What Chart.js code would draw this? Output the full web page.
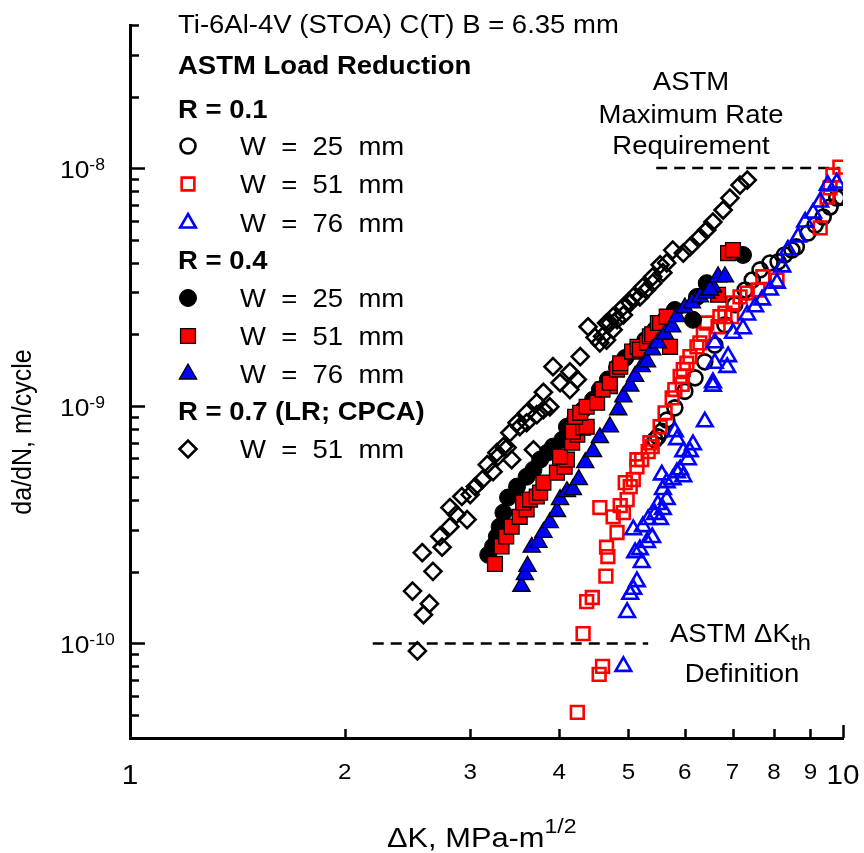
<!DOCTYPE html>
<html>
<head>
<meta charset="utf-8">
<script src="https://cdn.jsdelivr.net/npm/chart.js@4.4.1/dist/chart.umd.min.js"></script>
<style>
html, body { margin: 0; padding: 0; background: #fff; }
</style>
</head>
<body>
<canvas id="fcgChart" width="864" height="853"></canvas>
<script>
// ------ data (dK in MPa-m^1/2, da/dN in m/cycle) ------//

// R = 0.1, W = 25 mm
var dkR01W25 = [5.45, 5.50, 5.57, 5.66, 5.81, 6.00, 6.20, 6.40, 6.61, 6.83, 7.05, 7.29, 7.46, 7.65, 7.90, 8.11, 8.28, 8.48, 8.60, 8.93, 9.14, 9.38, 9.59, 9.80, 9.96]
var daR01W25 = [7.2e-10, 7.4e-10, 7.8e-10, 8.7e-10, 9.8e-10, 1.15e-9, 1.31e-9, 1.53e-9, 1.80e-9, 2.19e-9, 2.66e-9, 3.07e-9, 3.38e-9, 3.73e-9, 3.99e-9, 4.03e-9, 4.31e-9, 4.52e-9, 4.66e-9, 5.33e-9, 5.76e-9, 6.23e-9, 6.86e-9, 7.48e-9, 7.55e-9]

// R = 0.1, W = 51 mm
var dkR01W51 = [4.24, 4.55, 4.60, 4.32, 4.45, 4.37, 4.65, 4.68, 4.66, 4.56, 4.76, 4.82, 4.92, 4.87, 4.98, 5.03, 4.95, 5.08, 5.14, 5.22, 5.14, 5.33, 5.40, 5.36, 5.54, 5.63, 5.76, 5.81, 5.91, 5.95, 5.97, 6.04, 6.10, 6.24, 6.30, 6.37, 6.44, 6.68, 6.72, 6.83, 6.98, 7.01, 7.17, 7.34, 7.60, 7.72, 8.08, 9.29, 9.50, 9.59, 9.68, 9.90]
var daR01W51 = [5.13e-11, 7.41e-11, 8.01e-11, 1.10e-10, 1.56e-10, 1.50e-10, 1.92e-10, 2.32e-10, 2.54e-10, 3.73e-10, 3.41e-10, 2.93e-10, 3.55e-10, 3.80e-10, 4.03e-10, 4.57e-10, 4.75e-10, 4.89e-10, 5.54e-10, 5.93e-10, 5.93e-10, 6.41e-10, 6.73e-10, 6.99e-10, 8.16e-10, 9.34e-10, 1.08e-9, 1.17e-9, 1.33e-9, 1.23e-9, 1.42e-9, 1.51e-9, 1.61e-9, 1.77e-9, 1.84e-9, 2.00e-9, 2.23e-9, 2.15e-9, 2.37e-9, 2.45e-9, 2.37e-9, 2.71e-9, 2.87e-9, 2.98e-9, 3.07e-9, 3.49e-9, 3.38e-9, 5.60e-9, 7.55e-9, 8.25e-9, 9.35e-9, 1.01e-8]

// R = 0.1, W = 76 mm
var dkR01W76 = [4.92, 4.98, 5.03, 5.08, 5.14, 5.22, 5.11, 5.19, 5.31, 5.40, 5.08, 5.24, 5.33, 5.45, 5.54, 5.59, 5.50, 5.66, 5.59, 5.66, 5.57, 5.77, 5.85, 5.91, 5.97, 6.06, 6.10, 5.97, 6.16, 5.85, 5.81, 6.40, 6.57, 6.57, 6.61, 6.88, 6.90, 6.61, 7.01, 7.24, 7.34, 7.53, 7.70, 7.90, 8.08, 8.22, 8.37, 8.65, 8.85, 9.08, 9.29, 9.52, 9.80]
var daR01W76 = [8.01e-11, 1.35e-10, 1.61e-10, 1.69e-10, 1.82e-10, 2.19e-10, 2.41e-10, 2.48e-10, 2.66e-10, 2.79e-10, 3.01e-10, 3.10e-10, 3.32e-10, 3.49e-10, 3.32e-10, 3.66e-10, 3.84e-10, 4.03e-10, 4.44e-10, 4.75e-10, 5.12e-10, 4.89e-10, 5.23e-10, 5.38e-10, 5.03e-10, 5.93e-10, 6.41e-10, 6.41e-10, 6.86e-10, 7.20e-10, 7.78e-10, 8.56e-10, 1.21e-9, 1.25e-9, 1.51e-9, 1.45e-9, 1.61e-9, 1.84e-9, 2.02e-9, 2.11e-9, 2.41e-9, 2.61e-9, 2.79e-9, 3.07e-9, 3.28e-9, 3.84e-9, 4.52e-9, 5.13e-9, 5.93e-9, 6.47e-9, 7.20e-9, 8.48e-9, 8.65e-9]

// R = 0.4, W = 25 mm
var dkR04W25 = [3.18, 3.23, 3.27, 3.30, 3.34, 3.39, 3.49, 3.60, 3.68, 3.76, 3.85, 3.92, 4.04, 4.10, 4.21, 4.32, 4.46, 4.56, 4.68, 4.82, 4.95, 5.11, 5.28, 5.45, 5.63, 5.81, 6.16, 6.24, 6.44, 7.24]
var daR04W25 = [2.36e-10, 2.56e-10, 2.82e-10, 3.10e-10, 3.55e-10, 4.11e-10, 4.57e-10, 5.03e-10, 5.38e-10, 5.93e-10, 6.35e-10, 6.73e-10, 7.20e-10, 8.16e-10, 8.73e-10, 9.62e-10, 1.06e-9, 1.17e-9, 1.29e-9, 1.45e-9, 1.59e-9, 1.72e-9, 1.89e-9, 2.09e-9, 2.30e-9, 2.53e-9, 2.30e-9, 2.87e-9, 3.28e-9, 4.31e-9]

// R = 0.4, W = 51 mm
var dkR04W51 = [3.25, 3.32, 3.37, 3.43, 3.52, 3.60, 3.56, 3.64, 3.72, 3.76, 3.80, 3.97, 4.07, 4.10, 4.01, 4.17, 4.24, 4.18, 4.32, 4.37, 4.21, 4.28, 4.37, 4.52, 4.71, 4.60, 4.71, 4.82, 4.87, 4.87, 5.06, 5.15, 5.19, 5.31, 5.36, 5.40, 5.50, 5.54, 5.66, 5.72, 6.68, 6.90, 7.01]
var daR04W51 = [2.16e-10, 2.56e-10, 2.82e-10, 3.10e-10, 3.41e-10, 3.66e-10, 3.92e-10, 4.03e-10, 4.15e-10, 4.31e-10, 4.75e-10, 5.23e-10, 5.54e-10, 5.93e-10, 6.11e-10, 6.99e-10, 7.56e-10, 7.78e-10, 8.08e-10, 8.16e-10, 8.99e-10, 9.34e-10, 9.90e-10, 1.03e-9, 1.21e-9, 1.17e-9, 1.25e-9, 1.42e-9, 1.46e-9, 1.51e-9, 1.69e-9, 1.77e-9, 1.72e-9, 1.84e-9, 1.96e-9, 2.00e-9, 2.23e-9, 2.23e-9, 2.37e-9, 1.77e-9, 2.93e-9, 4.39e-9, 4.52e-9]

// R = 0.4, W = 76 mm
var dkR04W76 = [3.54, 3.58, 3.61, 3.66, 3.74, 3.80, 3.88, 3.97, 4.01, 4.10, 4.18, 4.26, 4.35, 4.46, 4.56, 4.71, 4.84, 4.92, 5.03, 5.11, 5.22, 5.31, 5.40, 5.50, 5.63, 5.76, 5.85, 6.00, 6.14, 6.30, 6.44, 6.57, 6.51, 6.68, 6.83]
var daR04W76 = [1.74e-10, 1.95e-10, 2.11e-10, 2.54e-10, 2.66e-10, 2.93e-10, 3.22e-10, 3.59e-10, 4.03e-10, 4.35e-10, 4.44e-10, 4.89e-10, 5.76e-10, 6.41e-10, 7.34e-10, 8.16e-10, 9.62e-10, 1.09e-9, 1.21e-9, 1.33e-9, 1.46e-9, 1.53e-9, 1.72e-9, 1.84e-9, 2.00e-9, 2.15e-9, 2.37e-9, 2.58e-9, 2.71e-9, 2.87e-9, 2.98e-9, 3.16e-9, 3.07e-9, 3.49e-9, 3.49e-9]

// R = 0.7 (LR; CPCA), W = 51 mm
var dkR07W51 = [2.53, 2.58, 2.63, 2.49, 2.66, 2.57, 2.74, 2.72, 2.81, 2.87, 2.81, 2.97, 2.92, 3.00, 3.05, 3.12, 3.23, 3.17, 3.28, 3.43, 3.38, 3.34, 3.27, 3.41, 3.52, 3.49, 3.60, 3.60, 3.68, 3.72, 3.72, 3.80, 3.80, 3.88, 4.01, 4.14, 4.14, 4.24, 3.92, 4.28, 4.39, 4.49, 4.56, 4.60, 4.66, 4.66, 4.71, 4.76, 4.76, 4.82, 4.92, 4.92, 5.03, 5.08, 5.19, 5.24, 5.30, 5.41, 5.41, 5.54, 5.59, 5.66, 5.77, 5.97, 6.10, 6.30, 6.44, 6.57, 6.79, 6.94, 7.17, 7.34]
var daR07W51 = [9.3e-11, 1.32e-10, 1.47e-10, 1.66e-10, 2.01e-10, 2.41e-10, 2.54e-10, 2.82e-10, 3.10e-10, 3.49e-10, 3.73e-10, 3.32e-10, 4.15e-10, 4.23e-10, 4.57e-10, 4.89e-10, 5.28e-10, 5.65e-10, 6.11e-10, 5.93e-10, 6.67e-10, 6.73e-10, 6.35e-10, 7.70e-10, 8.16e-10, 8.48e-10, 8.48e-10, 9.34e-10, 6.53e-10, 9.17e-10, 1.03e-9, 9.62e-10, 1.14e-9, 9.90e-10, 1.25e-9, 1.39e-9, 1.17e-9, 1.29e-9, 1.46e-9, 1.61e-9, 2.15e-9, 1.94e-9, 1.84e-9, 1.96e-9, 1.89e-9, 2.23e-9, 2.23e-9, 2.09e-9, 2.37e-9, 2.30e-9, 2.41e-9, 2.61e-9, 2.71e-9, 2.87e-9, 2.87e-9, 3.16e-9, 3.07e-9, 3.28e-9, 3.49e-9, 3.92e-9, 3.63e-9, 3.99e-9, 4.52e-9, 4.39e-9, 4.66e-9, 5.13e-9, 5.49e-9, 5.93e-9, 6.66e-9, 7.48e-9, 8.48e-9, 8.90e-9]

// ASTM reference lines
var thRate = 1e-10
var thK = [2.19, 5.33]
var maxRate = 1e-8
var maxK = [5.47, 9.90]

// axis ticks
var xTickLabels = [1, 2, 3, 4, 5, 6, 7, 8, 9, 10]
var yTickExp = [-10, -9, -8]
var xMin = 1, xMax = 10, yMin = 4e-11, yMax = 4e-8

function pts(xs, ys) {
	return xs.map(function (v, i) { return { x: v, y: ys[i] } })
}

var FONT = '"Liberation Sans", Arial, sans-serif'
var SX = 1.1   // the original figure is a little wide

// marker styles for each series
var series = [
	{ label: 'W  =  25  mm', dk: dkR01W25, da: daR01W25, style: 'circle',   r: 7.5, fill: 'rgba(0,0,0,0)', stroke: '#000',    lw: 2.6 },
	{ label: 'W  =  51  mm', dk: dkR01W51, da: daR01W51, style: 'rect',     r: 9,   fill: 'rgba(0,0,0,0)', stroke: '#ff0000', lw: 2.6 },
	{ label: 'W  =  76  mm', dk: dkR01W76, da: daR01W76, style: 'triangle', r: 9,   fill: 'rgba(0,0,0,0)', stroke: '#0000ff', lw: 2.6 },
	{ label: 'W  =  25  mm', dk: dkR04W25, da: daR04W25, style: 'circle',   r: 8.5, fill: '#000',          stroke: '#000',    lw: 1 },
	{ label: 'W  =  51  mm', dk: dkR04W51, da: daR04W51, style: 'rect',     r: 10.5, fill: '#ff0000',      stroke: '#000',    lw: 1.3 },
	{ label: 'W  =  76  mm', dk: dkR04W76, da: daR04W76, style: 'triangle', r: 10,  fill: '#0000ff',       stroke: '#000',    lw: 1.3 },
	{ label: 'W  =  51  mm', dk: dkR07W51, da: daR07W51, style: 'rectRot',  r: 8.5, fill: 'rgba(0,0,0,0)', stroke: '#000',    lw: 2.6 }
]

var datasets = series.map(function (s, i) {
	return {
		label: s.label,
		data: pts(s.dk, s.da),
		showLine: false,
		pointStyle: s.style,
		pointRadius: s.r,
		pointBackgroundColor: s.fill,
		pointBorderColor: s.stroke,
		pointBorderWidth: s.lw,
		order: 20 - i
	}
})
datasets.push({
	type: 'line', data: pts(thK, [thRate, thRate]), borderColor: '#000', borderWidth: 2.5,
	borderDash: [11, 7], pointRadius: 0, order: 30
})
datasets.push({
	type: 'line', data: pts(maxK, [maxRate, maxRate]), borderColor: '#000', borderWidth: 2.5,
	borderDash: [11, 7], pointRadius: 0, order: 30
})

function txt(c, s, x, y, size, bold, align) {
	c.save()
	c.translate(x, y)
	c.scale(SX, 1)
	c.font = (bold ? 'bold ' : '') + size + 'px ' + FONT
	c.textAlign = align || 'left'
	c.textBaseline = 'alphabetic'
	c.fillStyle = '#000'
	c.fillText(s, 0, 0)
	var w = c.measureText(s).width * SX
	c.restore()
	return w
}

function marker(c, s, x, y, r) {
	c.save()
	c.beginPath()
	if (s.style === 'circle') {
		c.arc(x, y, r, 0, Math.PI * 2)
	} else if (s.style === 'rect') {
		var h = r * Math.SQRT1_2
		c.rect(x - h, y - h, 2 * h, 2 * h)
	} else if (s.style === 'triangle') {
		for (var k = 0; k < 3; k++) {
			var a = k * 2 * Math.PI / 3
			var px = x + Math.sin(a) * r, py = y - Math.cos(a) * r
			if (k === 0) c.moveTo(px, py); else c.lineTo(px, py)
		}
		c.closePath()
	} else {
		c.moveTo(x - r, y); c.lineTo(x, y - r); c.lineTo(x + r, y); c.lineTo(x, y + r)
		c.closePath()
	}
	c.fillStyle = s.fill
	c.fill()
	c.lineWidth = s.lw
	c.strokeStyle = s.stroke
	c.stroke()
	c.restore()
}

var decor = {
	id: 'decor',
	afterDraw: function (chart) {
		var c = chart.ctx
		var xs = chart.scales.x, ys = chart.scales.y
		var L = chart.chartArea.left, B = chart.chartArea.bottom
		c.save()
		c.strokeStyle = '#000'
		c.lineWidth = 2.5

		// inward ticks, y axis
		for (var e = -11; e <= -8; e++) {
			for (var m = 1; m <= 9; m++) {
				var v = m * Math.pow(10, e)
				if (v < yMin * 1.001 || v > yMax * 1.001) continue
				var py = Math.round(ys.getPixelForValue(v)) + 0.5
				c.beginPath(); c.moveTo(L, py); c.lineTo(L + (m === 1 ? 15 : 9), py); c.stroke()
			}
		}
		// inward ticks, x axis
		for (var m2 = 2; m2 <= 10; m2++) {
			var px = Math.round(xs.getPixelForValue(m2)) + 0.5
			c.beginPath(); c.moveTo(px, B); c.lineTo(px, B - (m2 === 10 ? 13 : 9)); c.stroke()
		}

		// x tick labels
		xTickLabels.forEach(function (v) {
			var px = xs.getPixelForValue(v)
			var major = (v === 1 || v === 10)
			txt(c, String(v), px, major ? 784 : 779, major ? 27 : 22, false, 'center')
		})
		// y tick labels 10^e
		yTickExp.forEach(function (e) {
			var py = ys.getPixelForValue(Math.pow(10, e))
			var w = txt(c, '10', 60, py + 10, 24, false, 'left')
			txt(c, String(e), 60 + w, py + 2, 16, false, 'left')
		})

		// axis titles
		var w1 = txt(c, '\u0394K, MPa-m', 387, 847, 28, false, 'left')
		txt(c, '1/2', 387 + w1, 833, 21, false, 'left')
		c.save()
		c.translate(31, 432)
		c.rotate(-Math.PI / 2)
		c.scale(1, SX)
		c.font = '25px ' + FONT
		c.textAlign = 'center'
		c.fillStyle = '#000'
		c.fillText('da/dN, m/cycle', 0, 0)
		c.restore()

		// legend block
		txt(c, 'Ti-6Al-4V (STOA) C(T) B = 6.35 mm', 178, 33, 25, false)
		txt(c, 'ASTM Load Reduction', 178, 74, 25, true)
		var rows = [
			{ head: 'R = 0.1', y: 118 },
			{ s: 0, y: 155 }, { s: 1, y: 193 }, { s: 2, y: 232 },
			{ head: 'R = 0.4', y: 269 },
			{ s: 3, y: 307 }, { s: 4, y: 345 }, { s: 5, y: 383 },
			{ head: 'R = 0.7 (LR; CPCA)', y: 420 },
			{ s: 6, y: 458 }
		]
		rows.forEach(function (row) {
			if (row.head) { txt(c, row.head, 178, row.y, 25, true); return }
			var s = series[row.s]
			marker(c, s, 188, row.y - 9, s.r)
			txt(c, s.label, 240, row.y, 25, false)
		})

		// ASTM notes
		txt(c, 'ASTM', 691, 90, 25, false, 'center')
		txt(c, 'Maximum Rate', 691, 123, 25, false, 'center')
		txt(c, 'Requirement', 691, 154, 25, false, 'center')
		var w2 = txt(c, 'ASTM \u0394K', 670, 642, 25, false, 'left')
		txt(c, 'th', 670 + w2, 650, 22, false, 'left')
		txt(c, 'Definition', 742, 682, 25, false, 'center')
		c.restore()
	}
}

var ctx = document.getElementById('fcgChart')
var myChart = new Chart(ctx, {
	type: 'scatter',
	data: { datasets: datasets },
	options: {
		responsive: false,
		animation: false,
		devicePixelRatio: 1,
		layout: { padding: { left: 0, top: 25, right: 21, bottom: 0 } },
		plugins: { legend: { display: false }, tooltip: { enabled: false } },
		scales: {
			x: {
				type: 'logarithmic', min: xMin, max: xMax,
				ticks: { display: false },
				grid: { display: false, drawTicks: false },
				border: { display: true, color: '#000', width: 3 },
				afterFit: function (s) { s.height = 115 }
			},
			y: {
				type: 'logarithmic', min: yMin, max: yMax,
				ticks: { display: false },
				grid: { display: false, drawTicks: false },
				border: { display: true, color: '#000', width: 3 },
				afterFit: function (s) { s.width = 130 }
			}
		}
	},
	plugins: [decor]
})
</script>
</body>
</html>
